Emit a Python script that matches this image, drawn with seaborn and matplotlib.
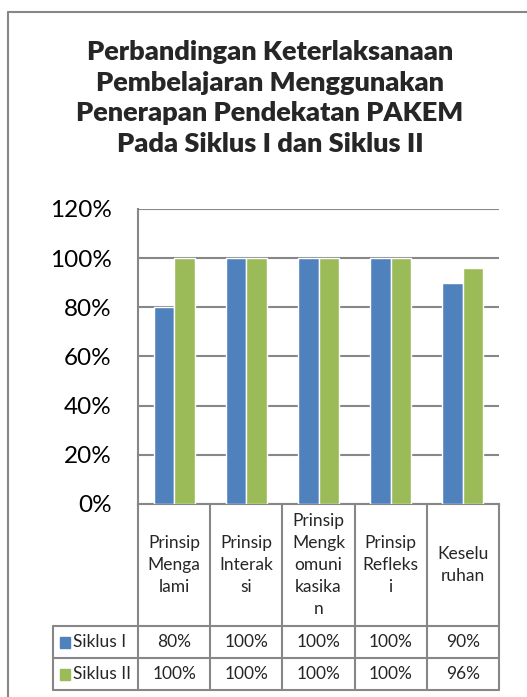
import matplotlib
matplotlib.use('Agg')
import matplotlib.pyplot as plt
import matplotlib.transforms as mtransforms
from matplotlib.lines import Line2D
from matplotlib.patches import Rectangle
import seaborn as sns
import pandas as pd

# data
categories = ['Prinsip Mengalami', 'Prinsip Interaksi', 'Prinsip Mengkomunikasikan',
              'Prinsip Refleksi', 'Keseluruhan']
header_labels = ['Prinsip\nMenga\nlami', 'Prinsip\nInterak\nsi',
                 'Prinsip\nMengk\nomuni\nkasika\nn', 'Prinsip\nRefleks\ni',
                 'Keselu\nruhan']
series_names = ['Siklus I', 'Siklus II']
siklus_1 = [0.80, 1.00, 1.00, 1.00, 0.90]
siklus_2 = [1.00, 1.00, 1.00, 1.00, 0.96]
y_ticks = [0.0, 0.2, 0.4, 0.6, 0.8, 1.0, 1.2]
title = ('Perbandingan Keterlaksanaan\nPembelajaran Menggunakan\n'
         'Penerapan Pendekatan PAKEM\nPada Siklus I dan Siklus II')

BLUE = '#4F81BD'
GREEN = '#9BBB59'
LINE = '#878787'

W, H = 527, 697


def fx(px):
    return px / W


def fy(py):
    return 1 - py / H


sns.set_style('white')
plt.rcParams['font.family'] = ['Lato', 'DejaVu Sans']

df = pd.DataFrame({
    'kategori': categories * 2,
    'nilai': siklus_1 + siklus_2,
    'siklus': [series_names[0]] * len(categories) + [series_names[1]] * len(categories),
})

fig = plt.figure(figsize=(W / 100, H / 100), dpi=100)
ax = fig.add_axes([fx(138), fy(504), fx(499) - fx(138), fy(209) - fy(504)])

sns.barplot(data=df, x='kategori', y='nilai', hue='siklus', order=categories,
            hue_order=series_names, palette=[BLUE, GREEN], saturation=1,
            width=0.57, gap=0, legend=False, ax=ax, zorder=3)

ax.set_xlim(-0.5, len(categories) - 0.5)
ax.set_ylim(0, 1.2)
ax.set_yticks(y_ticks)
ax.set_yticklabels([f'{t:.0%}' for t in y_ticks], fontsize=17.5, color='black')
ax.tick_params(axis='y', length=0, pad=19)
ax.tick_params(axis='x', length=0, labelbottom=False)
ax.set_xlabel('')
ax.set_ylabel('')
ax.yaxis.grid(True, color=LINE, linewidth=1.5, zorder=0)
ax.set_axisbelow(True)
for s in ['top', 'right']:
    ax.spines[s].set_visible(False)
for s in ['left', 'bottom']:
    ax.spines[s].set_color(LINE)
    ax.spines[s].set_linewidth(1.5)

# data table under the axis
trans = mtransforms.blended_transform_factory(ax.transData, fig.transFigure)
row_top, head_bot, r1_bot, r2_bot = 504, 626, 658, 690
n = len(categories)
for i in range(n + 1):
    fig.add_artist(Line2D([i - 0.5, i - 0.5], [fy(row_top), fy(r2_bot)],
                          transform=trans, color=LINE, lw=1.5))
for py in [head_bot, r1_bot, r2_bot]:
    fig.add_artist(Line2D([fx(53), fx(499)], [fy(py), fy(py)],
                          transform=fig.transFigure, color=LINE, lw=1.5))
fig.add_artist(Line2D([fx(53), fx(53)], [fy(head_bot), fy(r2_bot)],
                      transform=fig.transFigure, color=LINE, lw=1.5))

for i, lab in enumerate(header_labels):
    ax.text(i, fy((row_top + head_bot) / 2), lab, transform=trans, ha='center',
            va='center', fontsize=12.5, linespacing=1.45, clip_on=False)

rows = [(siklus_1, BLUE, series_names[0], head_bot, r1_bot),
        (siklus_2, GREEN, series_names[1], r1_bot, r2_bot)]
for vals, col, name, top, bot in rows:
    yc = fy((top + bot) / 2)
    fig.add_artist(Rectangle((fx(60), yc - 5.5 / H), 10 / W, 11 / H,
                             transform=fig.transFigure, color=col))
    fig.text(fx(73), yc, name, ha='left', va='center', fontsize=12.5)
    for i, v in enumerate(vals):
        ax.text(i, yc, f'{v:.0%}', transform=trans, ha='center', va='center',
                fontsize=12.5, clip_on=False)

fig.text(fx(270), fy(98), title, ha='center', va='center', fontsize=19.5,
         fontweight='heavy', linespacing=1.34)

# chart area frame (only left and top edges fall inside the image)
fig.add_artist(Line2D([fx(8), fx(8)], [fy(12), 0], transform=fig.transFigure,
                      color=LINE, lw=1.5))
fig.add_artist(Line2D([fx(8), 1], [fy(12), fy(12)], transform=fig.transFigure,
                      color=LINE, lw=1.5))

fig.savefig('out.png', dpi=100)
